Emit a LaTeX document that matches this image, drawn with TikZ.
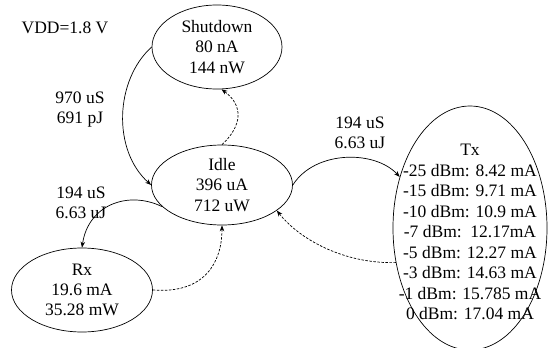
\documentclass[tikz,border=0pt]{standalone}
\usepackage{fontspec}
\setmainfont{Liberation Serif}
\usetikzlibrary{shapes.geometric,arrows.meta}
\begin{document}
\begin{tikzpicture}[x=1pt,y=-1pt,
  statebox/.style={ellipse,draw,line width=0.7pt,inner sep=0pt},
  statetext/.style={align=center,font=\fontsize{17.5}{20.2}\selectfont,inner sep=0pt},
  lbl/.style={align=center,font=\fontsize{17.5}{20}\selectfont,inner sep=0pt},
  tr/.style={line width=0.7pt,-{Stealth[length=6pt,width=4.5pt]}},
  back/.style={tr,dashed,dash pattern=on 2.5pt off 1.5pt}]
\useasboundingbox (0,0) rectangle (550,348);

% supply note
\node[lbl] (vdd) at (65,28) {VDD=1.8 V};

% power states
\node[statebox,minimum width=130pt,minimum height=84pt] (sd) at (217,47) {};
\node[statetext] at (sd.center) {Shutdown\\80 nA\\144 nW};

\node[statebox,minimum width=141pt,minimum height=80pt] (idle) at (222,185) {};
\node[statetext] at (idle.center) {Idle\\396 uA\\712 uW};

\node[statebox,minimum width=141pt,minimum height=84pt] (rx) at (82,290) {};
\node[statetext] at (rx.center) {Rx\\19.6 mA\\35.28 mW};

\node[statebox,minimum width=154pt,minimum height=244pt] (tx) at (470,228) {};
\node[statetext,font=\fontsize{17.5}{20.5}\selectfont] at (470,232) {Tx\\-25 dBm: 8.42 mA\\-15 dBm: 9.71 mA\\-10 dBm: 10.9 mA\\-7 dBm:\ \ 12.17mA\\-5 dBm: 12.27 mA\\-3 dBm: 14.63 mA\\-1 dBm: 15.785 mA\\0 dBm: 17.04 mA};

% transitions with their cost
\draw[tr] (sd.west) .. controls (115,80) and (112,150) .. (idle.west);
\node[lbl] (l1) at (80,110) {970 uS\\691 pJ};

\draw[back] (idle.north) .. controls (243,125) and (243,105) .. (sd.-84);

\draw[tr] (idle.200) .. controls (128,190) and (88,205) .. (rx.north);
\node[lbl] (l2) at (81,203) {194 uS\\6.63 uJ};

\draw[back] (rx.east) .. controls (205,294) and (222,262) .. (idle.south);

\draw[tr] (idle.east) .. controls (315,150) and (375,150) .. (tx.144);
\node[lbl] (l3) at (360,133) {194 uS\\6.63 uJ};

\draw[back] (tx.205) .. controls (345,264) and (300,240) .. (idle.-25);
\end{tikzpicture}
\end{document}
